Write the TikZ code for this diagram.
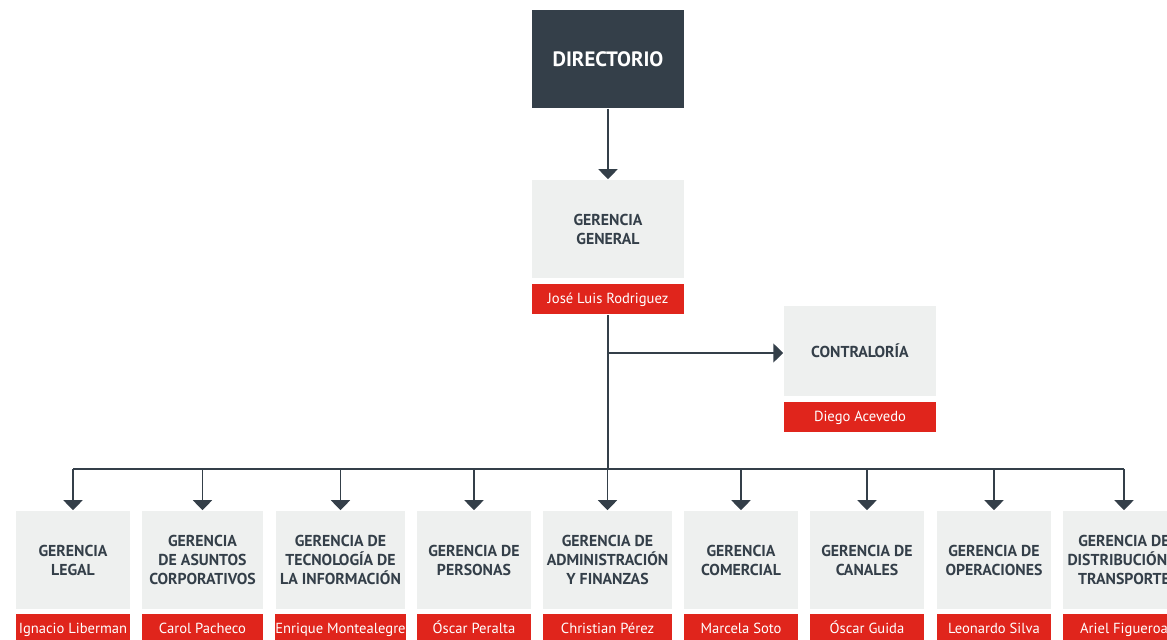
\documentclass[tikz,border=0pt]{standalone}
\usepackage{fontspec}
\setmainfont{PT Sans}
\usetikzlibrary{positioning,arrows.meta}
\definecolor{dark}{HTML}{343F49}
\definecolor{pale}{HTML}{EEF0EF}
\definecolor{redbar}{HTML}{E0251C}

\begin{document}
\begin{tikzpicture}[x=0.5pt, y=-0.5pt, ->, >={Triangle[width=9.5pt,length=5pt]}, line width=0.75pt,
    every edge/.append style={draw=dark},
    board/.style={fill=dark, text=white, inner sep=0pt, minimum width=76pt, minimum height=49pt, font=\bfseries\fontsize{10.4}{12}\selectfont},
    area/.style={fill=pale, text=dark, inner sep=0pt, minimum height=49pt, align=center, font=\bfseries\fontsize{7.9}{9.5}\selectfont},
    person/.style={fill=redbar, text=white, inner sep=0pt, minimum height=15pt, text height=5.6pt, text depth=1.6pt, font=\fontsize{7.3}{9}\selectfont}]

    \useasboundingbox (0,0) rectangle (1167,640);

    \node[board] (dir) at (608,59) {DIRECTORIO};
    \node[area, minimum width=76pt] (gg) at (608,229) {GERENCIA\\GENERAL};
    \node[person, minimum width=76pt, below=2.5pt of gg] (ggn) {José Luis Rodriguez};
    \node[area, minimum width=76pt, minimum height=45pt] (con) at (860,351) {CONTRALORÍA};
    \node[person, minimum width=76pt, below=2.5pt of con] (conn) {Diego Acevedo};

    \node[area, minimum width=57pt] (leg) at (73,560) {GERENCIA\\LEGAL};
    \node[area, minimum width=60.5pt] (asu) at (202.5,560) {GERENCIA\\DE ASUNTOS\\CORPORATIVOS};
    \node[area, minimum width=64.5pt] (tec) at (340.5,560) {GERENCIA DE\\TECNOLOGÍA DE\\LA INFORMACIÓN};
    \node[area, minimum width=57pt] (per) at (474,560) {GERENCIA DE\\PERSONAS};
    \node[area, minimum width=64.5pt] (adm) at (607.5,560) {GERENCIA DE\\ADMINISTRACIÓN\\Y FINANZAS};
    \node[area, minimum width=57pt] (com) at (741,560) {GERENCIA\\COMERCIAL};
    \node[area, minimum width=57pt] (can) at (867,560) {GERENCIA DE\\CANALES};
    \node[area, minimum width=57pt] (ope) at (994,560) {GERENCIA DE\\OPERACIONES};
    \node[area, minimum width=61pt] (dis) at (1124,560) {GERENCIA DE\\DISTRIBUCIÓN Y\\TRANSPORTE};

    \node[person, minimum width=57pt, below=2pt of leg] (legn) {Ignacio Liberman};
    \node[person, minimum width=60.5pt, below=2pt of asu] (asun) {Carol Pacheco};
    \node[person, minimum width=64.5pt, below=2pt of tec] (tecn) {Enrique Montealegre};
    \node[person, minimum width=57pt, below=2pt of per] (pern) {Óscar Peralta};
    \node[person, minimum width=64.5pt, below=2pt of adm] (admn) {Christian Pérez};
    \node[person, minimum width=57pt, below=2pt of com] (comn) {Marcela Soto};
    \node[person, minimum width=57pt, below=2pt of can] (cann) {Óscar Guida};
    \node[person, minimum width=57pt, below=2pt of ope] (open) {Leonardo Silva};
    \node[person, minimum width=61pt, below=2pt of dis] (disn) {Ariel Figueroa};

    \coordinate (bus) at (608,469);
    \coordinate (side) at ([yshift=-1pt]con.west);

    \path
        (dir) edge (gg)
        (ggn) edge[-] (bus)
        (ggn.south |- side) edge (side)
        (leg.north |- bus) edge[-] (dis.north |- bus)
        (leg.north |- bus) edge (leg)
        (asu.north |- bus) edge (asu)
        (tec.north |- bus) edge (tec)
        (per.north |- bus) edge (per)
        (adm.north |- bus) edge (adm)
        (com.north |- bus) edge (com)
        (can.north |- bus) edge (can)
        (ope.north |- bus) edge (ope)
        (dis.north |- bus) edge (dis)
        ;
\end{tikzpicture}
\end{document}
